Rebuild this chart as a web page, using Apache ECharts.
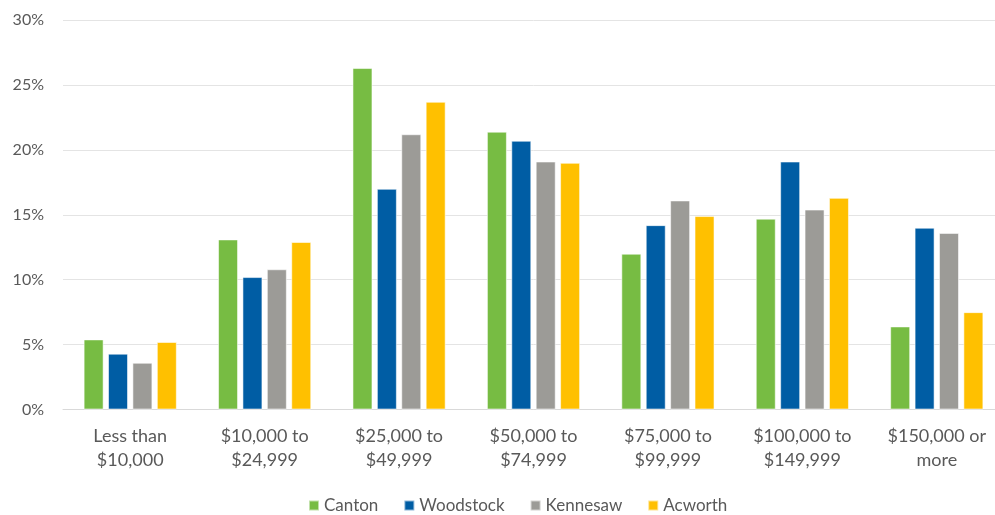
<!DOCTYPE html>
<html>
<head>
<meta charset="utf-8">
<title>Household Income Distribution</title>
<script src="https://cdn.jsdelivr.net/npm/echarts@6/dist/echarts.min.js"></script>
<style>
  html, body { margin: 0; padding: 0; background: #ffffff; overflow: hidden; }
  /* the plot area runs a few pixels past the visible right edge */
  #chart { width: 1004px; height: 515px; }
</style>
</head>
<body>
<div id="chart"></div>
<script>
// Income brackets along the x axis
const categories = [
  'Less than\n$10,000',
  '$10,000 to\n$24,999',
  '$25,000 to\n$49,999',
  '$50,000 to\n$74,999',
  '$75,000 to\n$99,999',
  '$100,000 to\n$149,999',
  '$150,000 or\nmore'
];

// Share of households (%) per city
const canton    = [5.4, 13.1, 26.3, 21.4, 12.0, 14.7, 6.4];
const woodstock = [4.3, 10.2, 17.0, 20.7, 14.2, 19.1, 14.0];
const kennesaw  = [3.6, 10.8, 21.2, 19.1, 16.1, 15.4, 13.6];
const acworth   = [5.2, 12.9, 23.7, 19.0, 14.9, 16.3, 7.5];

const seriesNames = ['Canton', 'Woodstock', 'Kennesaw', 'Acworth'];
const seriesData = [canton, woodstock, kennesaw, acworth];
const colors = ['#77BC43', '#005DA4', '#9C9B97', '#FFC000'];

const textColor = '#595959';
const fontFamily = 'Lato, "Open Sans", sans-serif';

const chart = echarts.init(document.getElementById('chart'), null, { renderer: 'canvas' });

chart.setOption({
  animation: false,
  backgroundColor: '#ffffff',
  color: colors,
  textStyle: { fontFamily: fontFamily, color: textColor },
  grid: { left: 63, right: 0, top: 20, bottom: 105.5, containLabel: false },
  legend: {
    data: seriesNames,
    left: 303,
    top: 492,
    itemWidth: 10,
    itemHeight: 10,
    itemGap: 25,
    icon: 'rect',
    textStyle: { fontFamily: fontFamily, fontSize: 17, color: textColor }
  },
  xAxis: {
    type: 'category',
    data: categories,
    axisLine: { show: true, lineStyle: { color: '#D9D9D9', width: 1 } },
    axisTick: { show: false },
    axisLabel: {
      interval: 0,
      margin: 15,
      fontFamily: fontFamily,
      fontSize: 18,
      lineHeight: 24,
      color: textColor
    }
  },
  yAxis: {
    type: 'value',
    min: 0,
    max: 30,
    interval: 5,
    axisLine: { show: false },
    axisTick: { show: false },
    splitLine: { lineStyle: { color: '#E4E4E4', width: 1 } },
    axisLabel: {
      margin: 19,
      fontFamily: fontFamily,
      fontSize: 16,
      color: textColor,
      formatter: '{value}%'
    }
  },
  series: seriesNames.map((name, i) => ({
    name: name,
    type: 'bar',
    data: seriesData[i],
    barWidth: 20,
    barGap: '22%',
    itemStyle: {
      color: colors[i],
      borderColor: 'rgba(255,255,255,0.55)',
      borderWidth: 1
    }
  }))
});
</script>
</body>
</html>
